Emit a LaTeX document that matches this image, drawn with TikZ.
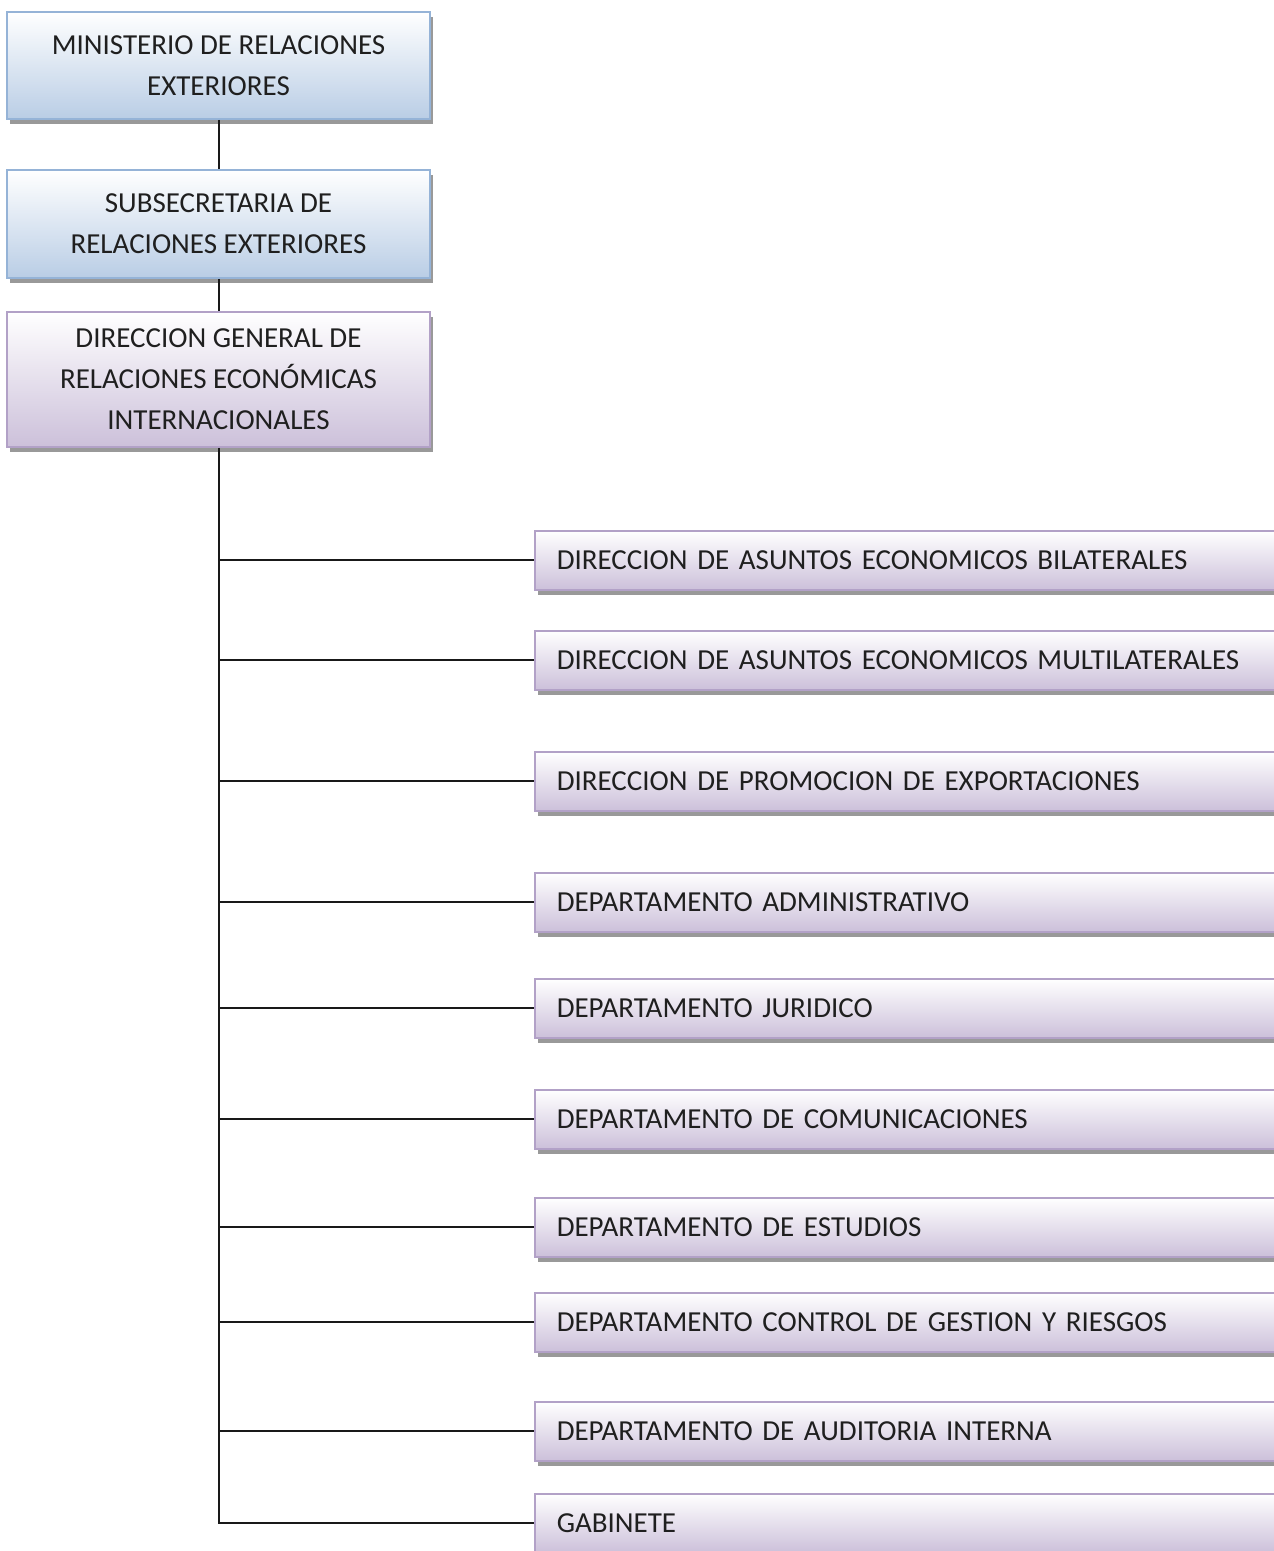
\documentclass[tikz,border=0pt]{standalone}
\usepackage{fontspec}
\setmainfont{Carlito}
\usetikzlibrary{shadows}
\definecolor{blueedge}{HTML}{95B3D7}
\definecolor{bluefill}{HTML}{B9CDE5}
\definecolor{lilacedge}{HTML}{B2A1C7}
\definecolor{lilacfill}{HTML}{CCC0DA}
\tikzstyle{chart}=[x=1pt, y=-1pt, font=\fontsize{29}{41}\selectfont]
\tikzstyle{box}=[rectangle, draw, line width=1.5pt, text=black!88, drop shadow={shadow xshift=3pt, shadow yshift=-5pt, fill=black!40, opacity=1}]
\tikzstyle{head}=[box, draw=blueedge, top color=white, bottom color=bluefill, minimum width=423pt, align=center]
\tikzstyle{dg}=[box, draw=lilacedge, top color=white, bottom color=lilacfill, minimum width=423pt, align=center]
\tikzstyle{unit}=[box, draw=lilacedge, top color=white, bottom color=lilacfill, anchor=north west, text width=716pt, inner xsep=22pt, minimum height=59pt, align=left]
\tikzstyle{link}=[draw=black!90, line width=2pt]
\begin{document}
\begin{tikzpicture}[chart]
	\useasboundingbox (0,0) rectangle (1274,1551);
	\clip (0,0) rectangle (1274,1551);
	%The top of the chart
	\draw (218.5,65.5) node[head, minimum height=107pt] (min) {MINISTERIO DE RELACIONES\\EXTERIORES};
	\draw (218.5,224) node[head, minimum height=108pt] (sub) {SUBSECRETARIA DE\\RELACIONES EXTERIORES};
	\draw (218.5,379.5) node[dg, minimum height=135pt] (dir) {DIRECCION GENERAL DE\\RELACIONES ECON\'OMICAS\\INTERNACIONALES};
	\draw[link] (min.south) -- (sub.north);
	\draw[link] (sub.south) -- (dir.north);

	%The units under the general direction
	\draw (534,530) node[unit] (u1) {DIRECCION DE ASUNTOS ECONOMICOS BILATERALES};
	\draw (534,630) node[unit] (u2) {DIRECCION DE ASUNTOS ECONOMICOS MULTILATERALES};
	\draw (534,751) node[unit] (u3) {DIRECCION DE PROMOCION DE EXPORTACIONES};
	\draw (534,872) node[unit] (u4) {DEPARTAMENTO ADMINISTRATIVO};
	\draw (534,978) node[unit] (u5) {DEPARTAMENTO JURIDICO};
	\draw (534,1089) node[unit] (u6) {DEPARTAMENTO DE COMUNICACIONES};
	\draw (534,1197) node[unit] (u7) {DEPARTAMENTO DE ESTUDIOS};
	\draw (534,1292) node[unit] (u8) {DEPARTAMENTO CONTROL DE GESTION Y RIESGOS};
	\draw (534,1401) node[unit] (u9) {DEPARTAMENTO DE AUDITORIA INTERNA};
	\draw (534,1493) node[unit] (u10) {GABINETE};

	%The trunk and its branches
	\draw[link] (dir.south) |- (u10.west);
	\foreach \u in {u1,u2,u3,u4,u5,u6,u7,u8,u9}
		\draw[link] (dir.south |- \u.west) -- (\u.west);
\end{tikzpicture}
\end{document}
